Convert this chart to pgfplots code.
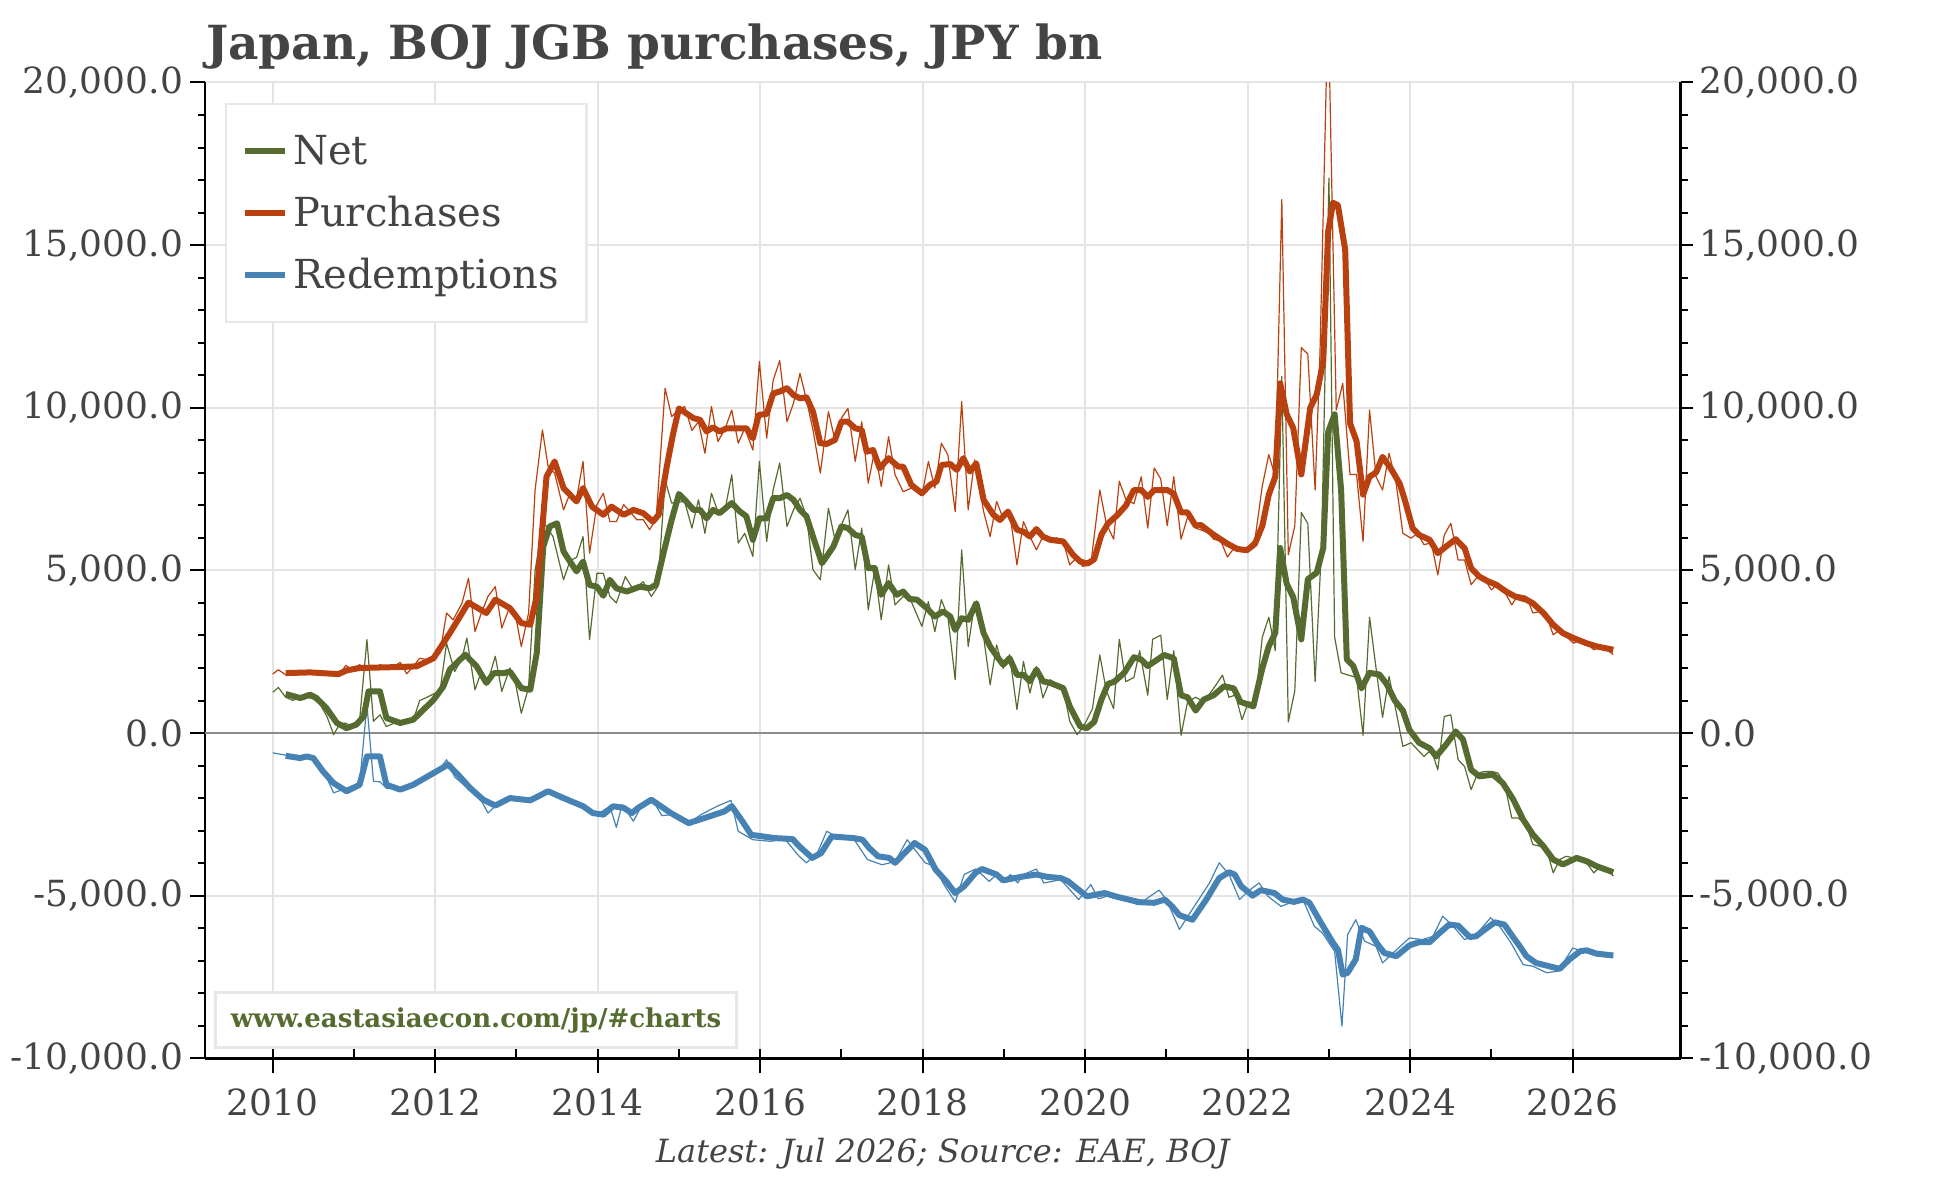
\documentclass[border=0pt]{standalone}
\usepackage{fontspec}
\setmainfont{DejaVu Serif}
\usepackage{pgfplots}
\pgfplotsset{compat=1.18}
\definecolor{netgreen}{RGB}{85,107,47}
\definecolor{purch}{RGB}{185,65,15}
\definecolor{redem}{RGB}{70,130,180}
\definecolor{textgray}{RGB}{68,68,68}
\definecolor{gridgray}{RGB}{228,228,228}
\definecolor{zerogray}{RGB}{140,140,140}
\definecolor{boxgray}{RGB}{232,232,232}
\begin{document}
\begin{tikzpicture}
\begin{axis}[
  name=main,
  scale only axis, width=737.75pt, height=487.9pt,
  xmin=2009.167, xmax=2027.327, ymin=-10000, ymax=20000,
  axis x line*=bottom, axis y line*=left,
  axis line style={-, line width=1.3pt, black},
  xtick={2010,2012,...,2026},
  xticklabels={2010,2012,2014,2016,2018,2020,2022,2024,2026},
  extra x ticks={2010,2011,...,2026},
  extra x tick labels={},
  extra x tick style={grid=none, tick align=inside, major tick length=4.5pt},
  ytick={-10000,-5000,...,20000},
  minor y tick num=4,
  scaled y ticks=false,
  tick align=outside,
  major tick length=7.5pt, minor tick length=3.75pt,
  tick style={line width=1pt, black},
  xmajorgrids, ymajorgrids,
  grid style={line width=1pt, draw=gridgray},
  xticklabel style={font=\fontsize{18}{20}\selectfont, text=textgray, anchor=base, yshift=-21pt},
  yticklabel style={font=\fontsize{18}{20}\selectfont, text=textgray, /pgf/number format/.cd, fixed, fixed zerofill, precision=1, 1000 sep={,}, assume math mode=true},
  xlabel={Latest: Jul 2026; Source: EAE, BOJ},
  xlabel style={font=\itshape\fontsize{16}{18}\selectfont, text=textgray, at={(axis description cs:0.5,0)}, anchor=base, yshift=-52pt},
  legend style={at={(axis description cs:0.01355,0.9793)}, anchor=north west,
    draw=boxgray, line width=1.2pt, fill=white,
    font=\fontsize{20}{24}\selectfont, text=textgray,
    inner xsep=8pt, inner ysep=12pt, row sep=7.9pt,
    nodes={text height=16.5pt, text depth=2.6pt, inner sep=2pt},
    column sep=0.75pt},
  legend cell align=left,
  legend image code/.code={\draw[line width=2.8pt] (0pt,0pt) -- (20pt,0pt);},
  every axis plot/.append style={line join=round},
]
\addplot[forget plot, color=zerogray, line width=1pt] coordinates {(2009.167,0) (2027.327,0)};
% thin (monthly) series
\addplot[forget plot, color=netgreen, line width=0.6pt] coordinates {
(2010.0,1250)(2010.07,1400)(2010.16,1100)(2010.25,1000)(2010.33,1150)(2010.42,1100)(2010.5,1050)(2010.58,900)(2010.67,500)(2010.75,-50)(2010.83,300)(2010.9,300)(2010.98,200)(2011.07,400)(2011.16,2870)(2011.24,360)(2011.32,560)(2011.4,200)(2011.49,300)(2011.57,350)(2011.65,300)(2011.73,400)(2011.81,1000)(2011.9,1100)(2011.98,1200)(2012.06,1300)(2012.14,2760)(2012.24,1890)(2012.33,2300)(2012.39,2920)(2012.49,1330)(2012.57,1900)(2012.65,1600)(2012.74,2360)(2012.82,1280)(2012.92,2000)(2012.99,1500)(2013.06,610)(2013.15,1400)(2013.23,5000)(2013.33,6500)(2013.45,6040)(2013.58,4710)(2013.66,5300)(2013.74,5400)(2013.82,6040)(2013.9,2870)(2013.99,4910)(2014.07,4910)(2014.15,4200)(2014.23,4000)(2014.34,4810)(2014.44,4400)(2014.56,4650)(2014.66,4200)(2014.74,4500)(2014.83,7780)(2014.91,7070)(2014.99,7100)(2015.07,7120)(2015.16,6300)(2015.24,7170)(2015.32,6140)(2015.4,7370)(2015.48,6800)(2015.57,6900)(2015.65,7940)(2015.73,5840)(2015.81,6140)(2015.91,5430)(2015.99,8350)(2016.08,5890)(2016.16,7480)(2016.24,8300)(2016.33,6350)(2016.41,6860)(2016.49,7220)(2016.57,6660)(2016.65,5020)(2016.74,4710)(2016.84,6910)(2016.92,5940)(2017.0,6400)(2017.08,6860)(2017.17,5020)(2017.25,6300)(2017.33,3790)(2017.41,5020)(2017.49,3480)(2017.58,5170)(2017.66,3940)(2017.76,4200)(2017.86,4040)(2017.99,3280)(2018.07,4040)(2018.15,3120)(2018.23,4100)(2018.31,3580)(2018.4,1640)(2018.48,5630)(2018.56,2660)(2018.64,4000)(2018.75,2950)(2018.83,1480)(2018.91,2710)(2018.99,1990)(2019.07,2410)(2019.16,720)(2019.24,2200)(2019.32,1230)(2019.4,2050)(2019.48,1080)(2019.57,1640)(2019.65,1500)(2019.73,1380)(2019.81,360)(2019.9,-50)(2019.98,200)(2020.09,750)(2020.18,2400)(2020.26,1300)(2020.35,750)(2020.42,2880)(2020.5,1580)(2020.6,1710)(2020.67,2530)(2020.77,1160)(2020.83,2880)(2020.93,3010)(2021.01,1030)(2021.09,2530)(2021.18,-70)(2021.26,960)(2021.36,1100)(2021.46,960)(2021.58,1370)(2021.69,1780)(2021.77,1100)(2021.85,1170)(2021.93,410)(2022.01,960)(2022.09,890)(2022.18,2950)(2022.26,3560)(2022.34,2530)(2022.42,10960)(2022.5,340)(2022.58,1300)(2022.66,6780)(2022.74,6440)(2022.83,1580)(2022.91,5800)(2023.0,17060)(2023.07,2950)(2023.15,1850)(2023.24,1780)(2023.34,1710)(2023.42,-70)(2023.5,3560)(2023.58,1990)(2023.66,480)(2023.74,1740)(2023.82,750)(2023.91,-410)(2024.01,-300)(2024.09,-510)(2024.17,-720)(2024.26,-510)(2024.34,-1130)(2024.42,510)(2024.5,560)(2024.59,-820)(2024.67,-1030)(2024.75,-1740)(2024.83,-1230)(2024.92,-1180)(2025.0,-1180)(2025.08,-1230)(2025.16,-1540)(2025.25,-2610)(2025.33,-2610)(2025.43,-2820)(2025.51,-3430)(2025.6,-3480)(2025.68,-3580)(2025.76,-4300)(2025.84,-3890)(2025.92,-3790)(2026.01,-3840)(2026.09,-3890)(2026.17,-3990)(2026.26,-4300)(2026.34,-4100)(2026.42,-4150)(2026.5,-4400)
};
\addplot[forget plot, color=purch, line width=0.6pt] coordinates {
(2010.0,1812)(2010.07,1945)(2010.16,1790)(2010.25,1850)(2010.33,1880)(2010.42,1860)(2010.5,1850)(2010.58,1870)(2010.67,1830)(2010.75,1800)(2010.83,1830)(2010.9,2080)(2010.98,1950)(2011.07,2100)(2011.15,1960)(2011.24,2000)(2011.32,2100)(2011.4,2000)(2011.49,2050)(2011.57,2170)(2011.65,1820)(2011.73,2050)(2011.81,2300)(2011.9,2250)(2011.98,2300)(2012.06,2460)(2012.14,3690)(2012.22,3480)(2012.33,3990)(2012.41,4760)(2012.49,3120)(2012.57,3700)(2012.65,4200)(2012.74,4500)(2012.82,3230)(2012.92,3900)(2012.99,3600)(2013.06,2660)(2013.15,3690)(2013.23,7480)(2013.32,9320)(2013.39,8190)(2013.47,7990)(2013.58,6860)(2013.66,7370)(2013.74,7200)(2013.82,8350)(2013.9,5530)(2013.99,7020)(2014.07,7370)(2014.15,6500)(2014.23,6500)(2014.32,7020)(2014.4,6800)(2014.48,6560)(2014.56,6560)(2014.64,6250)(2014.72,6600)(2014.83,10600)(2014.91,9730)(2014.99,9930)(2015.07,10040)(2015.16,9300)(2015.24,9570)(2015.32,8600)(2015.4,10040)(2015.48,8960)(2015.57,9370)(2015.65,9930)(2015.73,8910)(2015.81,9370)(2015.91,8700)(2015.99,11420)(2016.08,9060)(2016.16,10850)(2016.24,11450)(2016.33,9570)(2016.41,10140)(2016.49,11060)(2016.57,10240)(2016.65,9320)(2016.74,7990)(2016.84,9880)(2016.92,9010)(2017.0,9680)(2017.08,9980)(2017.17,8350)(2017.25,9570)(2017.33,7680)(2017.41,8700)(2017.49,7580)(2017.58,9110)(2017.66,7940)(2017.76,7420)(2017.86,7530)(2017.99,7300)(2018.07,8350)(2018.15,7530)(2018.23,8910)(2018.31,8550)(2018.4,6810)(2018.48,10190)(2018.56,6860)(2018.64,8400)(2018.75,6810)(2018.83,6040)(2018.91,7120)(2018.99,6600)(2019.07,6810)(2019.16,5170)(2019.24,6500)(2019.32,6040)(2019.4,5630)(2019.48,6040)(2019.57,5940)(2019.65,6000)(2019.73,5890)(2019.81,5170)(2019.9,5400)(2019.97,5120)(2020.07,5200)(2020.18,7470)(2020.26,6440)(2020.35,5960)(2020.42,7740)(2020.5,7190)(2020.6,7050)(2020.69,7880)(2020.77,6300)(2020.85,8150)(2020.93,7810)(2021.01,6370)(2021.09,7880)(2021.18,5960)(2021.26,6640)(2021.36,6300)(2021.44,6230)(2021.52,6150)(2021.58,5960)(2021.67,5900)(2021.75,5410)(2021.85,5750)(2021.95,5620)(2022.01,5700)(2022.09,5960)(2022.18,7600)(2022.26,8560)(2022.34,7880)(2022.42,16400)(2022.5,5480)(2022.58,6370)(2022.66,11850)(2022.74,11650)(2022.83,7470)(2022.89,11700)(2022.99,22500)(2023.09,9930)(2023.17,10750)(2023.26,7950)(2023.34,7950)(2023.42,5890)(2023.5,9930)(2023.58,7880)(2023.66,7470)(2023.74,8600)(2023.82,7800)(2023.91,6140)(2024.01,5990)(2024.09,6140)(2024.17,5790)(2024.26,5850)(2024.34,4860)(2024.42,6090)(2024.5,6450)(2024.59,5320)(2024.67,5320)(2024.75,4560)(2024.83,4810)(2024.92,4710)(2025.0,4400)(2025.08,4600)(2025.16,4350)(2025.25,3940)(2025.33,4250)(2025.43,4200)(2025.51,3690)(2025.6,3740)(2025.68,3590)(2025.76,3020)(2025.84,3170)(2025.92,2970)(2026.01,2760)(2026.09,2870)(2026.17,2760)(2026.26,2560)(2026.34,2660)(2026.42,2560)(2026.5,2410)
};
\addplot[forget plot, color=redem, line width=0.6pt] coordinates {
(2010.0,-610)(2010.16,-680)(2010.3,-800)(2010.42,-700)(2010.55,-850)(2010.67,-1400)(2010.75,-1840)(2010.9,-1700)(2011.07,-1550)(2011.16,870)(2011.24,-1480)(2011.32,-1500)(2011.4,-1700)(2011.57,-1700)(2011.73,-1550)(2011.9,-1300)(2012.06,-1100)(2012.14,-820)(2012.24,-1350)(2012.4,-1700)(2012.55,-2000)(2012.65,-2460)(2012.8,-2100)(2012.95,-2000)(2013.1,-2100)(2013.25,-1900)(2013.39,-1750)(2013.55,-2050)(2013.7,-2150)(2013.85,-2300)(2014.0,-2500)(2014.15,-2250)(2014.23,-2900)(2014.3,-2200)(2014.44,-2710)(2014.56,-2150)(2014.66,-2000)(2014.79,-2540)(2014.95,-2500)(2015.1,-2800)(2015.27,-2510)(2015.47,-2250)(2015.64,-2070)(2015.73,-3020)(2015.91,-3280)(2016.13,-3330)(2016.3,-3250)(2016.48,-3790)(2016.57,-3990)(2016.7,-3700)(2016.82,-3020)(2016.95,-3200)(2017.15,-3250)(2017.32,-3890)(2017.5,-4050)(2017.66,-3950)(2017.81,-3280)(2018.03,-3990)(2018.15,-4100)(2018.25,-4610)(2018.4,-5200)(2018.51,-4350)(2018.65,-4180)(2018.82,-4560)(2018.91,-4350)(2019.0,-4560)(2019.08,-4350)(2019.17,-4610)(2019.24,-4350)(2019.4,-4180)(2019.49,-4610)(2019.7,-4510)(2019.92,-5120)(2020.07,-4660)(2020.16,-5100)(2020.33,-4970)(2020.5,-5120)(2020.65,-5280)(2020.78,-5050)(2020.91,-4830)(2021.0,-5120)(2021.16,-6040)(2021.29,-5530)(2021.41,-5070)(2021.53,-4610)(2021.65,-3990)(2021.77,-4350)(2021.9,-5120)(2022.0,-4870)(2022.14,-4610)(2022.25,-5020)(2022.41,-5330)(2022.57,-5170)(2022.68,-5120)(2022.82,-5940)(2022.92,-6150)(2023.07,-6710)(2023.16,-9010)(2023.23,-6200)(2023.33,-5740)(2023.44,-6400)(2023.58,-6560)(2023.66,-7070)(2023.79,-6760)(2023.99,-6300)(2024.15,-6350)(2024.28,-6250)(2024.4,-5630)(2024.53,-5940)(2024.67,-6350)(2024.81,-6200)(2024.99,-5680)(2025.1,-5940)(2025.24,-6450)(2025.39,-7120)(2025.51,-7170)(2025.68,-7370)(2025.82,-7320)(2026.0,-6610)(2026.19,-6760)(2026.31,-6860)(2026.5,-6880)
};
% thick (smoothed) series
\addplot[color=netgreen, line width=3pt] coordinates {
(2010.16,1200)(2010.34,1075)(2010.46,1180)(2010.54,1075)(2010.66,770)(2010.79,310)(2010.91,150)(2011.03,260)(2011.12,510)(2011.18,1280)(2011.32,1280)(2011.4,460)(2011.57,310)(2011.73,410)(2011.98,1020)(2012.1,1430)(2012.18,1950)(2012.37,2410)(2012.51,2050)(2012.63,1540)(2012.72,1840)(2012.84,1840)(2012.92,1890)(2013.06,1380)(2013.17,1330)(2013.25,2460)(2013.33,5730)(2013.41,6350)(2013.5,6450)(2013.58,5580)(2013.66,5270)(2013.74,4970)(2013.82,5270)(2013.9,4550)(2013.99,4500)(2014.07,4220)(2014.15,4710)(2014.23,4450)(2014.36,4350)(2014.52,4500)(2014.64,4450)(2014.72,4560)(2014.81,5530)(2014.91,6550)(2015.0,7350)(2015.09,7120)(2015.18,6860)(2015.26,6860)(2015.34,6600)(2015.42,6860)(2015.5,6760)(2015.65,7070)(2015.75,6810)(2015.83,6660)(2015.91,5940)(2015.99,6600)(2016.08,6600)(2016.16,7220)(2016.24,7220)(2016.33,7320)(2016.41,7170)(2016.49,6860)(2016.57,6660)(2016.65,6040)(2016.76,5220)(2016.9,5730)(2017.0,6350)(2017.08,6300)(2017.17,6090)(2017.25,6040)(2017.33,5070)(2017.41,5070)(2017.49,4250)(2017.58,4610)(2017.68,4250)(2017.76,4350)(2017.84,4120)(2017.93,4100)(2018.05,3840)(2018.15,3580)(2018.25,3740)(2018.34,3580)(2018.4,3170)(2018.48,3530)(2018.56,3480)(2018.66,3990)(2018.75,3070)(2018.83,2660)(2018.93,2300)(2018.99,2100)(2019.07,2300)(2019.16,1790)(2019.24,1790)(2019.32,1590)(2019.4,1950)(2019.48,1590)(2019.57,1540)(2019.73,1380)(2019.81,820)(2019.94,200)(2020.02,150)(2020.11,340)(2020.2,1030)(2020.28,1510)(2020.36,1580)(2020.48,1850)(2020.6,2330)(2020.69,2260)(2020.77,2060)(2020.89,2260)(2020.97,2400)(2021.09,2300)(2021.18,1160)(2021.26,1100)(2021.36,690)(2021.46,1030)(2021.58,1160)(2021.71,1440)(2021.83,1370)(2021.91,960)(2022.07,820)(2022.18,1990)(2022.26,2670)(2022.34,3080)(2022.4,5690)(2022.48,4590)(2022.56,4180)(2022.66,2880)(2022.74,4730)(2022.85,4930)(2022.93,5690)(2022.99,9250)(2023.07,9800)(2023.15,7470)(2023.22,2260)(2023.3,2060)(2023.4,1370)(2023.5,1850)(2023.62,1800)(2023.71,1510)(2023.81,1000)(2023.91,690)(2023.99,100)(2024.11,-300)(2024.24,-470)(2024.32,-720)(2024.44,-360)(2024.56,50)(2024.65,-200)(2024.75,-1130)(2024.85,-1330)(2025.02,-1280)(2025.14,-1540)(2025.27,-2050)(2025.39,-2660)(2025.51,-3120)(2025.64,-3480)(2025.76,-3890)(2025.88,-4040)(2026.05,-3840)(2026.17,-3940)(2026.3,-4100)(2026.5,-4280)
};
\addlegendentry{Net}
\addplot[color=purch, line width=3pt] coordinates {
(2010.16,1843)(2010.46,1864)(2010.81,1812)(2010.91,1925)(2011.07,2000)(2011.57,2030)(2011.77,2050)(2011.98,2300)(2012.18,3070)(2012.41,4010)(2012.63,3690)(2012.74,4100)(2012.92,3840)(2013.06,3380)(2013.17,3330)(2013.25,4200)(2013.37,7880)(2013.47,8350)(2013.58,7530)(2013.74,7120)(2013.82,7530)(2013.93,6960)(2014.07,6710)(2014.17,6960)(2014.32,6710)(2014.44,6860)(2014.56,6760)(2014.68,6500)(2014.75,6710)(2014.85,8190)(2014.93,9220)(2015.0,9980)(2015.09,9830)(2015.18,9680)(2015.26,9630)(2015.34,9270)(2015.42,9400)(2015.5,9270)(2015.59,9370)(2015.83,9370)(2015.91,9060)(2015.98,9780)(2016.08,9810)(2016.16,10440)(2016.24,10500)(2016.33,10600)(2016.41,10390)(2016.49,10290)(2016.57,10320)(2016.65,9880)(2016.74,8910)(2016.82,8890)(2016.92,9010)(2017.0,9570)(2017.08,9570)(2017.17,9370)(2017.25,9320)(2017.31,8650)(2017.39,8700)(2017.47,8140)(2017.58,8450)(2017.7,8190)(2017.76,8190)(2017.86,7630)(2017.99,7370)(2018.09,7630)(2018.17,7730)(2018.23,8240)(2018.34,8270)(2018.42,8090)(2018.5,8450)(2018.58,8040)(2018.66,8290)(2018.75,7170)(2018.87,6710)(2018.95,6550)(2019.05,6810)(2019.16,6250)(2019.24,6190)(2019.32,6040)(2019.4,6270)(2019.48,6040)(2019.57,5940)(2019.73,5890)(2019.85,5480)(2019.94,5270)(2020.03,5210)(2020.11,5340)(2020.2,6100)(2020.28,6440)(2020.4,6710)(2020.5,6990)(2020.6,7470)(2020.69,7470)(2020.77,7260)(2020.85,7470)(2021.01,7470)(2021.09,7360)(2021.18,6780)(2021.26,6780)(2021.36,6370)(2021.42,6400)(2021.58,6100)(2021.75,5820)(2021.87,5660)(2021.99,5620)(2022.09,5820)(2022.18,6370)(2022.26,7330)(2022.34,7880)(2022.4,10750)(2022.48,9800)(2022.56,9380)(2022.66,7950)(2022.77,10000)(2022.85,10410)(2022.93,11440)(2022.99,15410)(2023.05,16300)(2023.11,16230)(2023.2,14860)(2023.26,9520)(2023.34,8970)(2023.42,7330)(2023.5,7880)(2023.58,8010)(2023.66,8490)(2023.77,8100)(2023.87,7670)(2023.93,7200)(2024.03,6300)(2024.11,6090)(2024.24,5940)(2024.34,5530)(2024.44,5730)(2024.56,5960)(2024.67,5680)(2024.75,5070)(2024.85,4810)(2024.96,4660)(2025.06,4560)(2025.18,4350)(2025.29,4200)(2025.43,4100)(2025.51,3990)(2025.64,3690)(2025.76,3330)(2025.88,3070)(2026.01,2920)(2026.17,2760)(2026.3,2660)(2026.5,2560)
};
\addlegendentry{Purchases}
\addplot[color=redem, line width=3pt] coordinates {
(2010.16,-700)(2010.34,-770)(2010.42,-720)(2010.5,-770)(2010.62,-1180)(2010.75,-1540)(2010.91,-1790)(2011.07,-1590)(2011.16,-720)(2011.32,-720)(2011.4,-1590)(2011.57,-1740)(2011.73,-1590)(2011.98,-1230)(2012.16,-970)(2012.3,-1330)(2012.43,-1690)(2012.59,-2050)(2012.74,-2230)(2012.92,-2000)(2013.17,-2070)(2013.39,-1790)(2013.58,-2000)(2013.82,-2250)(2013.94,-2460)(2014.07,-2510)(2014.19,-2250)(2014.32,-2300)(2014.42,-2460)(2014.5,-2300)(2014.66,-2050)(2014.9,-2460)(2015.12,-2770)(2015.38,-2560)(2015.56,-2410)(2015.65,-2250)(2015.78,-2710)(2015.89,-3130)(2016.18,-3230)(2016.4,-3260)(2016.48,-3480)(2016.64,-3840)(2016.75,-3690)(2016.88,-3180)(2017.15,-3230)(2017.26,-3280)(2017.34,-3530)(2017.45,-3790)(2017.59,-3840)(2017.66,-3990)(2017.9,-3380)(2018.03,-3590)(2018.16,-4200)(2018.29,-4560)(2018.4,-4920)(2018.51,-4710)(2018.65,-4300)(2018.73,-4180)(2018.91,-4350)(2018.99,-4530)(2019.13,-4460)(2019.26,-4400)(2019.4,-4350)(2019.53,-4420)(2019.7,-4460)(2019.79,-4560)(2020.02,-5020)(2020.24,-4920)(2020.37,-5020)(2020.5,-5100)(2020.67,-5200)(2020.85,-5220)(2020.98,-5120)(2021.07,-5330)(2021.16,-5600)(2021.32,-5740)(2021.49,-5120)(2021.65,-4460)(2021.77,-4280)(2021.84,-4350)(2021.92,-4710)(2022.06,-5000)(2022.16,-4830)(2022.33,-4920)(2022.43,-5120)(2022.57,-5190)(2022.68,-5120)(2022.76,-5220)(2022.88,-5740)(2023.05,-6450)(2023.11,-6660)(2023.17,-7430)(2023.23,-7370)(2023.33,-6960)(2023.4,-5990)(2023.5,-6100)(2023.6,-6500)(2023.68,-6760)(2023.83,-6860)(2023.99,-6530)(2024.11,-6430)(2024.24,-6430)(2024.36,-6150)(2024.48,-5890)(2024.59,-5920)(2024.73,-6270)(2024.81,-6250)(2024.92,-6040)(2025.04,-5820)(2025.16,-5890)(2025.26,-6250)(2025.35,-6560)(2025.43,-6860)(2025.55,-7070)(2025.68,-7150)(2025.84,-7250)(2025.96,-6960)(2026.09,-6710)(2026.17,-6680)(2026.29,-6780)(2026.5,-6840)
};
\addlegendentry{Redemptions\hspace*{3.75pt}}
\node[draw=boxgray, line width=1.5pt, fill=white, anchor=south west, minimum width=260pt, minimum height=27.5pt, inner sep=0pt, font=\bfseries\fontsize{13}{15}\selectfont, text=netgreen] at (axis description cs:0.00644,0.0092) {www.eastasiaecon.com/jp/\#charts};
\end{axis}
\begin{axis}[
  scale only axis, width=737.75pt, height=487.9pt,
  xmin=2009.167, xmax=2027.327, ymin=-10000, ymax=20000,
  axis x line=none, axis y line*=right,
  axis line style={-, line width=1.3pt, black},
  ytick={-10000,-5000,...,20000},
  minor y tick num=4,
  scaled y ticks=false,
  tick align=outside,
  major tick length=6pt, minor tick length=3.5pt,
  tick style={line width=1pt, black},
  yticklabel style={font=\fontsize{18}{20}\selectfont, text=textgray, /pgf/number format/.cd, fixed, fixed zerofill, precision=1, 1000 sep={,}, assume math mode=true},
]
\addplot[draw=none, forget plot] coordinates {(2010,0)};
\end{axis}
\node[anchor=base west, font=\bfseries\fontsize{23.5}{28}\selectfont, text=textgray] at ([xshift=-3pt,yshift=11.25pt]main.north west) {Japan, BOJ JGB purchases, JPY bn};
\pgfresetboundingbox
\path ([shift={(-102.5pt,-59.85pt)}]main.south west) rectangle ([shift={(131.75pt,41.25pt)}]main.north east);
\end{tikzpicture}
\end{document}
